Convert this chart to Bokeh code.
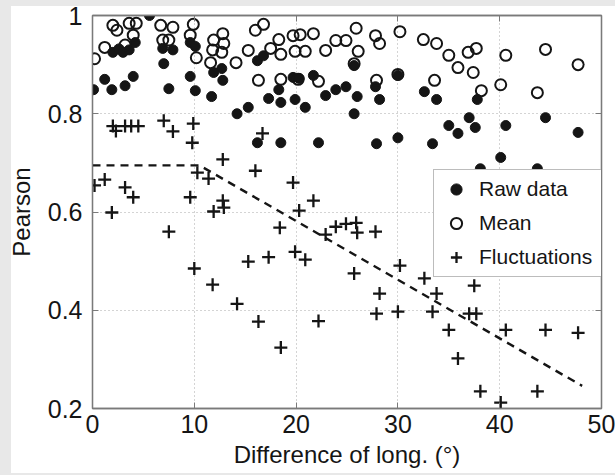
from bokeh.plotting import figure
from bokeh.models import (Range1d, FixedTicker, CustomJSTickFormatter, LinearAxis,
                          Legend, LegendItem)
from bokeh.embed import file_html
from bokeh.resources import INLINE

# ---------------- data ----------------
raw_x = [5.6, 2.0, 2.6, 3.0, 3.6, 4.2, 6.9, 7.9, 7.0, 9.6, 10.1, 0.1, 1.2, 1.9, 3.2, 4.0,
         7.5, 9.6, 10.1, 11.7, 12.8, 12.7, 11.9, 14.2, 15.3, 16.2, 16.2, 16.8, 18.3, 17.3,
         18.5, 19.9, 20.9, 19.7, 20.3, 21.7, 22.9, 23.9, 24.9, 26.0, 25.7, 25.7, 27.8, 28.2,
         30.0, 32.6, 18.5, 22.2, 27.9, 30.0, 33.8, 33.4, 35.0, 35.9, 37.0, 37.6, 37.8, 40.6,
         44.5, 47.7, 40.1, 38.1, 43.7]
raw_y = [1.0, 0.925, 0.932, 0.925, 0.93, 0.945, 0.933, 0.93, 0.902, 0.945, 0.937, 0.849,
         0.87, 0.849, 0.857, 0.876, 0.851, 0.876, 0.847, 0.835, 0.868, 0.892, 0.884, 0.8,
         0.813, 0.741, 0.908, 0.918, 0.849, 0.831, 0.823, 0.829, 0.813, 0.874, 0.872, 0.878,
         0.837, 0.849, 0.855, 0.835, 0.8, 0.898, 0.855, 0.829, 0.878, 0.845, 0.741, 0.741,
         0.739, 0.751, 0.829, 0.739, 0.776, 0.76, 0.792, 0.772, 0.829, 0.776, 0.792, 0.762,
         0.711, 0.688, 0.688]

mean_x = [0.2, 1.2, 2.0, 2.4, 3.6, 4.3, 4.0, 3.2, 6.7, 7.9, 6.9, 7.5, 9.9, 9.6, 10.2, 11.9,
          12.8, 12.9, 11.8, 12.7, 11.6, 14.1, 15.3, 16.0, 16.3, 16.8, 18.3, 19.7, 20.4, 21.7,
          17.5, 18.5, 19.9, 20.9, 22.9, 23.9, 24.9, 25.9, 26.1, 25.7, 27.8, 28.2, 30.2, 32.5,
          18.5, 20.2, 22.2, 27.9, 30.0, 33.6, 33.8, 35.0, 35.9, 36.9, 37.7, 37.4, 38.2, 40.6,
          40.1, 44.5, 43.7, 47.7]
mean_y = [0.912, 0.935, 0.98, 0.97, 0.984, 0.984, 0.96, 0.94, 0.98, 0.976, 0.95, 0.95, 0.982,
          0.96, 0.914, 0.95, 0.963, 0.943, 0.93, 0.925, 0.904, 0.904, 0.929, 0.97, 0.868,
          0.982, 0.951, 0.959, 0.961, 0.963, 0.933, 0.921, 0.927, 0.927, 0.929, 0.949, 0.949,
          0.974, 0.927, 0.902, 0.959, 0.943, 0.967, 0.951, 0.87, 0.87, 0.866, 0.868, 0.88,
          0.868, 0.943, 0.919, 0.894, 0.925, 0.933, 0.884, 0.847, 0.919, 0.859, 0.931, 0.843,
          0.9]

fluct_x = [2.0, 2.3, 3.2, 3.8, 4.5, 7.0, 7.9, 9.9, 9.8, 12.8, 10.3, 11.4, 0.2, 1.2, 3.2, 4.0,
           16.0, 9.6, 12.8, 1.9, 7.5, 11.9, 12.9, 10.0, 11.8, 15.3, 14.2, 16.3, 19.7, 21.7,
           20.3, 18.4, 22.9, 23.9, 24.9, 25.9, 26.0, 27.8, 17.3, 19.9, 20.9, 25.7, 30.2, 32.6,
           28.2, 27.9, 30.0, 22.2, 18.5, 16.7, 33.8, 33.4, 37.5, 37.0, 37.7, 35.0, 40.6, 44.5,
           47.7, 35.9, 38.1, 43.7, 40.1]
fluct_y = [0.775, 0.765, 0.775, 0.775, 0.775, 0.786, 0.764, 0.78, 0.741, 0.707, 0.68, 0.668,
           0.654, 0.666, 0.65, 0.63, 0.684, 0.63, 0.623, 0.599, 0.56, 0.601, 0.609, 0.485,
           0.452, 0.499, 0.413, 0.377, 0.66, 0.623, 0.603, 0.568, 0.554, 0.57, 0.576, 0.578,
           0.558, 0.56, 0.508, 0.519, 0.503, 0.475, 0.491, 0.465, 0.434, 0.393, 0.397, 0.378,
           0.324, 0.76, 0.434, 0.397, 0.45, 0.393, 0.393, 0.36, 0.36, 0.36, 0.354, 0.302,
           0.235, 0.235, 0.212]

trend_x = [0.0, 10.5, 48.1]
trend_y = [0.695, 0.695, 0.246]

x_ticks = [0, 10, 20, 30, 40, 50]
y_ticks = [0.2, 0.4, 0.6, 0.8, 1.0]

FONT = "Liberation Sans"
FRAME = "#7a7a7a"
INK = "#151515"
PAGE = "#e8e8e8"

p = figure(width=615, height=475, x_range=Range1d(0, 50), y_range=Range1d(0.2, 1.0),
           output_backend="svg", toolbar_location=None,
           min_border_left=92, min_border_right=14, min_border_top=15, min_border_bottom=67)
p.border_fill_color = None
p.background_fill_color = "white"
p.styles = {"background": (f"linear-gradient({PAGE},{PAGE}) left top / 11px 100% no-repeat, "
                           f"linear-gradient({PAGE},{PAGE}) left top / 100% 6px no-repeat, "
                           f"linear-gradient({PAGE},{PAGE}) left bottom / 100% 2px no-repeat, "
                           "#ffffff")}
p.outline_line_color = FRAME
p.outline_line_width = 1.3

# axes
for ax in (p.xaxis[0], p.yaxis[0]):
    ax.axis_line_color = FRAME
    ax.axis_line_width = 1.3
    ax.major_tick_line_color = FRAME
    ax.major_tick_in = 6
    ax.major_tick_out = 0
    ax.minor_tick_line_color = None
    ax.major_label_text_font = FONT
    ax.major_label_text_font_size = "25px"
    ax.major_label_text_color = INK
    ax.axis_label_text_font = FONT
    ax.axis_label_text_font_size = "24px"
    ax.axis_label_text_font_style = "normal"
    ax.axis_label_text_color = INK

p.xaxis.ticker = FixedTicker(ticks=x_ticks)
p.yaxis.ticker = FixedTicker(ticks=y_ticks)
p.yaxis.formatter = CustomJSTickFormatter(code="return tick.toFixed(1).replace(/\\.0$/, '');")
p.xaxis.axis_label = "Difference of long. (°)"
p.yaxis.axis_label = "Pearson"
p.xaxis.major_label_standoff = 6
p.xaxis.axis_label_standoff = 5
p.yaxis.major_label_standoff = 10
p.yaxis.axis_label_standoff = 10

# tick-only axes on top and right (no labels)
blank = CustomJSTickFormatter(code="return '';")
top = LinearAxis(ticker=FixedTicker(ticks=x_ticks), formatter=blank,
                 axis_line_color=FRAME, axis_line_width=1.3, major_tick_line_color=FRAME,
                 major_tick_in=6, major_tick_out=0, minor_tick_line_color=None,
                 major_label_standoff=0)
right = LinearAxis(ticker=FixedTicker(ticks=y_ticks), formatter=blank,
                   axis_line_color=FRAME, axis_line_width=1.3, major_tick_line_color=FRAME,
                   major_tick_in=6, major_tick_out=0, minor_tick_line_color=None,
                   major_label_standoff=0)
p.add_layout(top, "above")
p.add_layout(right, "right")

# grid
p.xgrid.ticker = FixedTicker(ticks=x_ticks[1:-1])
p.ygrid.ticker = FixedTicker(ticks=y_ticks[1:-1])
for g in (p.xgrid[0], p.ygrid[0]):
    g.grid_line_color = "#a8a8a8"
    g.grid_line_dash = "1 3"
    g.grid_line_width = 1

# glyphs
r_raw = p.scatter(raw_x, raw_y, marker="circle", size=10, fill_color=INK, line_color=INK)
r_mean = p.scatter(mean_x, mean_y, marker="circle", size=11, fill_color=None,
                   line_color=INK, line_width=2)
r_fluct = p.scatter(fluct_x, fluct_y, marker="cross", size=13, line_color=INK, line_width=2.3)
p.line(trend_x, trend_y, line_color=INK, line_width=2.4, line_dash="8 6")

legend = Legend(items=[LegendItem(label="Raw data", renderers=[r_raw]),
                       LegendItem(label="Mean", renderers=[r_mean]),
                       LegendItem(label="Fluctuations", renderers=[r_fluct])],
                location=(341, 131))
legend.label_text_font = FONT
legend.label_text_font_size = "21px"
legend.label_text_color = INK
legend.padding = 5
legend.spacing = 6
legend.label_height = 28
legend.glyph_height = 28
legend.glyph_width = 34
legend.label_standoff = 6
legend.label_width = 121
legend.margin = 0
legend.border_line_color = FRAME
legend.border_line_width = 1.3
legend.background_fill_color = "white"
legend.background_fill_alpha = 1.0
p.add_layout(legend, "center")

open("out.html", "w").write(file_html(p, INLINE))
